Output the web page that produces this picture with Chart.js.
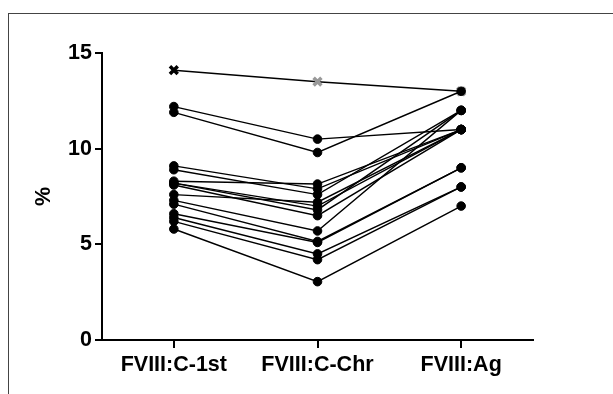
<!DOCTYPE html>
<html>
<head>
<meta charset="utf-8">
<script src="https://cdn.jsdelivr.net/npm/chart.js@4/dist/chart.umd.min.js"></script>
<style>
    html, body { margin: 0; padding: 0; background: #fff; }
    #wrap { position: relative; width: 613px; height: 394px; overflow: hidden; }
    #frame { position: absolute; left: 8px; top: 13px; width: 700px; height: 500px;
             border-left: 1px solid #444; border-top: 1px solid #444; }
    #chart { position: absolute; left: 0; top: 0; }
</style>
</head>
<body>
<div id="wrap">
    <div id="frame"></div>
    <canvas id="chart" width="613" height="394"></canvas>
</div>
<script>
// Категорії і значення (по одному пацієнту на індекс)
const categories = ['FVIII:C-1st', 'FVIII:C-Chr', 'FVIII:Ag'];
const c1st = [12.2, 11.9, 9.1, 8.9, 8.3, 8.2, 8.2, 8.1, 7.6, 7.3, 7.1, 6.6, 6.4, 6.2, 5.8, 14.1];
const cChr = [10.5, 9.8, 7.9, 7.6, 8.15, 7.0, 6.8, 6.5, 7.2, 5.7, 5.15, 5.1, 4.5, 4.2, 3.05, 13.5];
const ag   = [11,   13,  11,  12,  11,   11,  12,  11,  11,  12,  9,    9,   8,   8,   7,    13];
// останній пацієнт позначений хрестиком
const crossIdx = 15;
const yTicks = [0, 5, 10, 15];

const FONT = { family: 'Liberation Sans, Arial, sans-serif', size: 21.5, weight: 'bold' };

const datasets = c1st.map((v, i) => {
    const isCross = i === crossIdx;
    return {
        data: [v, cChr[i], ag[i]],
        borderColor: '#000',
        borderWidth: 1.4,
        pointStyle: isCross ? 'crossRot' : 'circle',
        pointRadius: isCross ? 5.5 : 4.3,
        pointBorderWidth: isCross ? 3.5 : 1,
        pointBackgroundColor: isCross ? ['#000', '#999', '#999'] : '#000',
        pointBorderColor: isCross ? ['#000', '#999', '#999'] : '#000',
        tension: 0
    };
});

const ctx = document.getElementById('chart').getContext('2d');
const chart = new Chart(ctx, {
    type: 'line',
    data: { labels: categories, datasets: datasets },
    options: {
        responsive: false,
        animation: false,
        layout: { padding: { left: 22, right: 80, top: 53, bottom: 10 } },
        plugins: { legend: { display: false }, tooltip: { enabled: false } },
        scales: {
            x: {
                type: 'category',
                offset: true,
                grid: { display: true, offset: false, drawOnChartArea: false, drawTicks: true,
                        tickLength: 8, color: '#000', lineWidth: 2 },
                border: { display: true, color: '#000', width: 2 },
                ticks: { color: '#000', font: FONT, padding: 4, maxRotation: 0 },
                afterFit: s => { s.height = 44; }
            },
            y: {
                min: 0,
                max: 15,
                afterBuildTicks: s => { s.ticks = yTicks.map(v => ({ value: v })); },
                grid: { display: true, drawOnChartArea: false, drawTicks: true,
                        tickLength: 7, color: '#000', lineWidth: 2 },
                border: { display: true, color: '#000', width: 2 },
                ticks: { color: '#000', font: FONT, padding: 3 },
                title: { display: true, text: '%', color: '#000', font: FONT, padding: { top: 9, bottom: 0 } },
                afterFit: s => { s.width = 80; }
            }
        }
    }
});
</script>
</body>
</html>
